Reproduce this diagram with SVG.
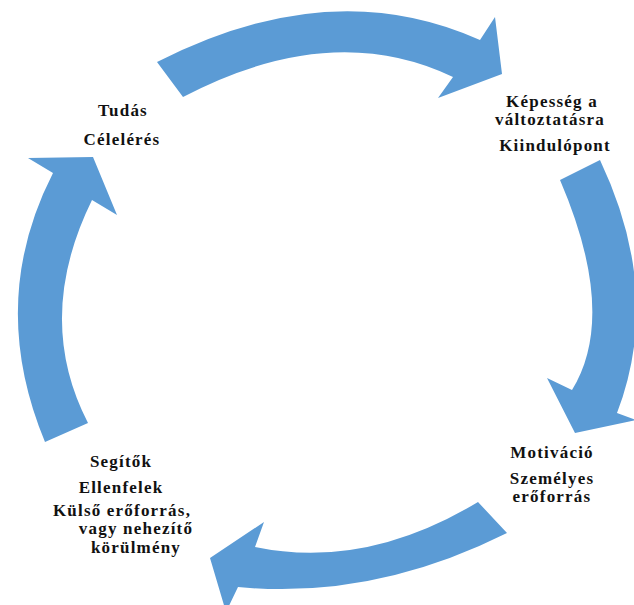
<svg xmlns="http://www.w3.org/2000/svg" width="634" height="605" viewBox="0 0 634 605">
<style>
.arr{fill:#5B9BD5;stroke:none}
.t{font-family:"Liberation Serif","Times New Roman",serif;font-weight:bold;font-size:17px;fill:#111;text-anchor:middle;letter-spacing:1.2px}
</style>
<rect width="634" height="605" fill="#ffffff"/>
<g id="connectors">
<path class="arr" d="M157,62 Q331,-27 480,40 L495,17 L502,74 L438,98 L453,77 Q332,19 183,97 Z"/>
<path class="arr" d="M600,160 Q663,293 617,413 L636,420 L575,433 L547,378 L572,390 Q618,315 560,180 Z"/>
<path class="arr" d="M507,533 Q373,600 238,587 L226,612 L210,558 L264,522 L255,547 Q365,570 478,502 Z"/>
<path class="arr" d="M45,442 Q-13,302 53,173 L28,158 L93,157 L117,215 L92,200 Q34,318 88,423 Z"/>
</g>
<g id="node-tudas">
<text class="t" x="123" y="116">Tudás</text>
<text class="t" x="122" y="145">Célelérés</text>
</g>
<g id="node-kepesseg">
<text class="t" x="552" y="107">Képesség a</text>
<text class="t" x="550" y="125">változtatásra</text>
<text class="t" x="555" y="151">Kiindulópont</text>
</g>
<g id="node-motivacio">
<text class="t" x="552" y="458">Motiváció</text>
<text class="t" x="552" y="484">Személyes</text>
<text class="t" x="552" y="502">erőforrás</text>
</g>
<g id="node-segitok">
<text class="t" x="121" y="467">Segítők</text>
<text class="t" x="121" y="493">Ellenfelek</text>
<text class="t" x="122" y="516">Külső erőforrás,</text>
<text class="t" x="136" y="534">vagy nehezítő</text>
<text class="t" x="136" y="553">körülmény</text>
</g>
</svg>
